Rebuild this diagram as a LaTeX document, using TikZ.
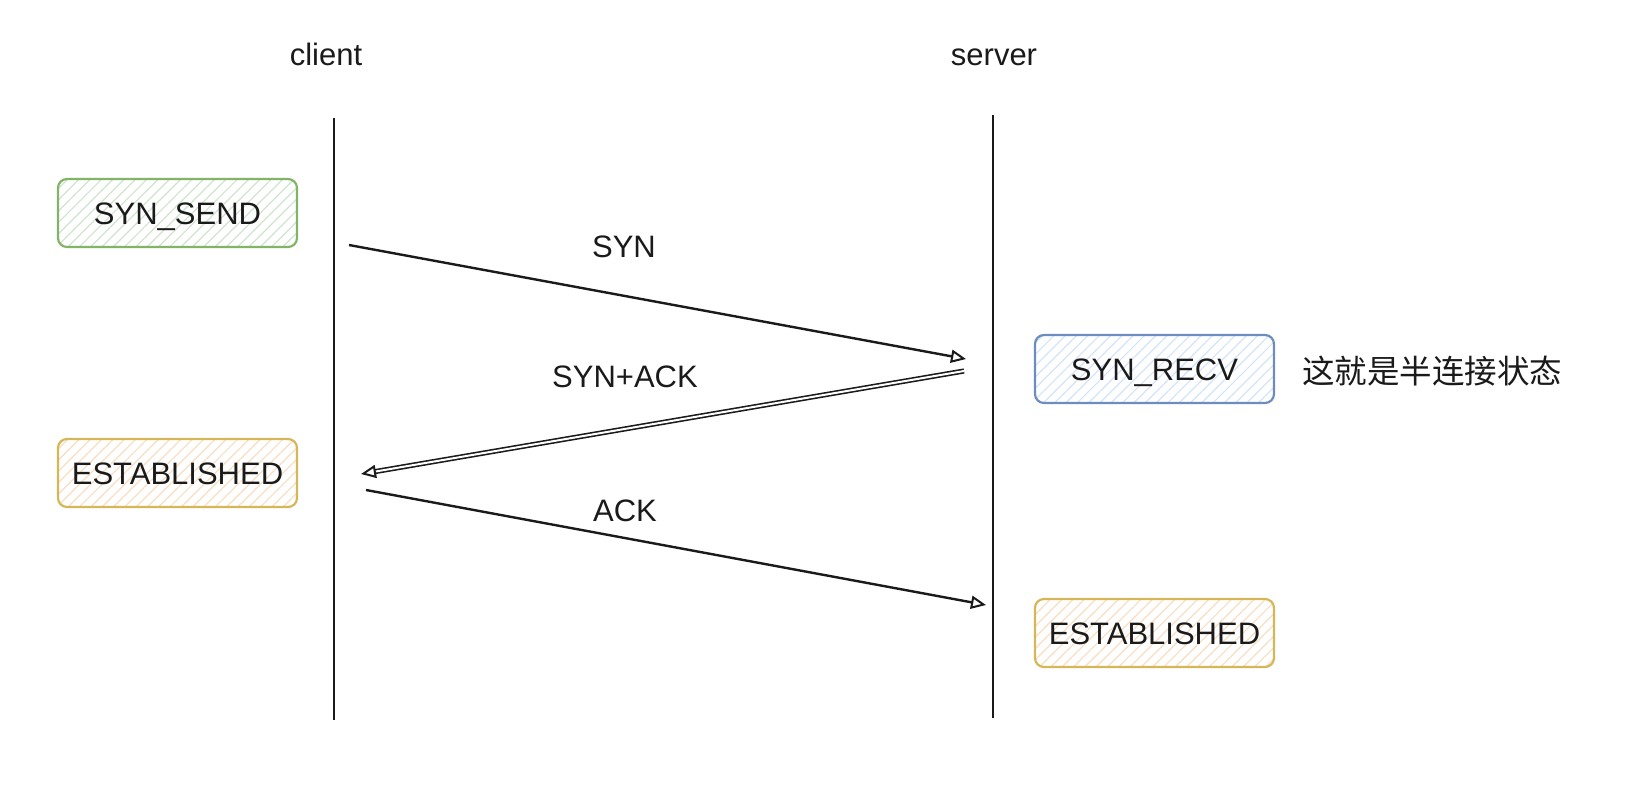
\documentclass[tikz,border=0pt]{standalone}
\usepackage{fontspec}
\setmainfont{Liberation Sans}
\newfontfamily\cjk{Noto Sans CJK SC}
\usetikzlibrary{arrows.meta,patterns.meta}
\definecolor{grnS}{HTML}{82B366}
\definecolor{grnF}{HTML}{CFE4CD}
\definecolor{bluS}{HTML}{6C8EBF}
\definecolor{bluF}{HTML}{D3E3F8}
\definecolor{ylwS}{HTML}{D6B656}
\definecolor{ylwF}{HTML}{F8DEC2}
\definecolor{ink}{HTML}{1A1A1A}
\begin{document}
\begin{tikzpicture}[x=1pt,y=-1pt,
  txt/.style={font=\fontsize{31}{36}\selectfont, text=ink, inner sep=0pt},
  state/.style={txt, draw=#1S, line width=2.2pt, rounded corners=9pt,
    minimum width=239pt, minimum height=68pt, text height=22pt, text depth=0pt,
    pattern={Lines[angle=45,distance=8pt,line width=1.2pt]}, pattern color=#1F},
  life/.style={draw=ink, line width=2pt},
  tip/.style={-{Triangle[open,length=15pt,width=13pt,line width=2pt]}},
  msg/.style={draw=ink, line width=2.4pt, tip},
  msgd/.style={draw=ink, line width=1.6pt, double=white, double distance=2pt, tip}
]
\useasboundingbox (0,0) rectangle (1642,790);

% headers
\node[txt, anchor=base] (client) at (326,65) {client};
\node[txt, anchor=base] (server) at (994,65) {server};

% lifelines
\coordinate (c1) at (334,118);
\coordinate (c2) at (334,720);
\coordinate (s1) at (993,115);
\coordinate (s2) at (993,718);
\draw[life] (c1) -- (c2);
\draw[life] (s1) -- (s2);

% states
\node[state=grn] (synsend) at (177.5,213) {SYN\_SEND};
\node[state=ylw] (estc) at (177.5,473) {ESTABLISHED};
\node[state=blu] (synrecv) at (1154.5,369) {SYN\_RECV};
\node[state=ylw] (ests) at (1154.5,633) {ESTABLISHED};
\node[txt, anchor=west, font=\cjk\fontsize{32.5}{38}\selectfont] (note) at (1302,371) {这就是半连接状态};

% messages
\coordinate (a1) at (349,245);
\coordinate (a2) at (966,359);
\coordinate (b1) at (964,371);
\coordinate (b2) at (361,474);
\coordinate (d1) at (366,490);
\coordinate (d2) at (986,605);
\draw[msg] (a1) -- (a2);
\draw[msgd] (b1) -- (b2);
\draw[msg] (d1) -- (d2);

\node[txt] (synlbl) at (624,247) {SYN};
\node[txt] (synacklbl) at (625,377) {SYN+ACK};
\node[txt] (acklbl) at (625,511) {ACK};
\end{tikzpicture}
\end{document}
